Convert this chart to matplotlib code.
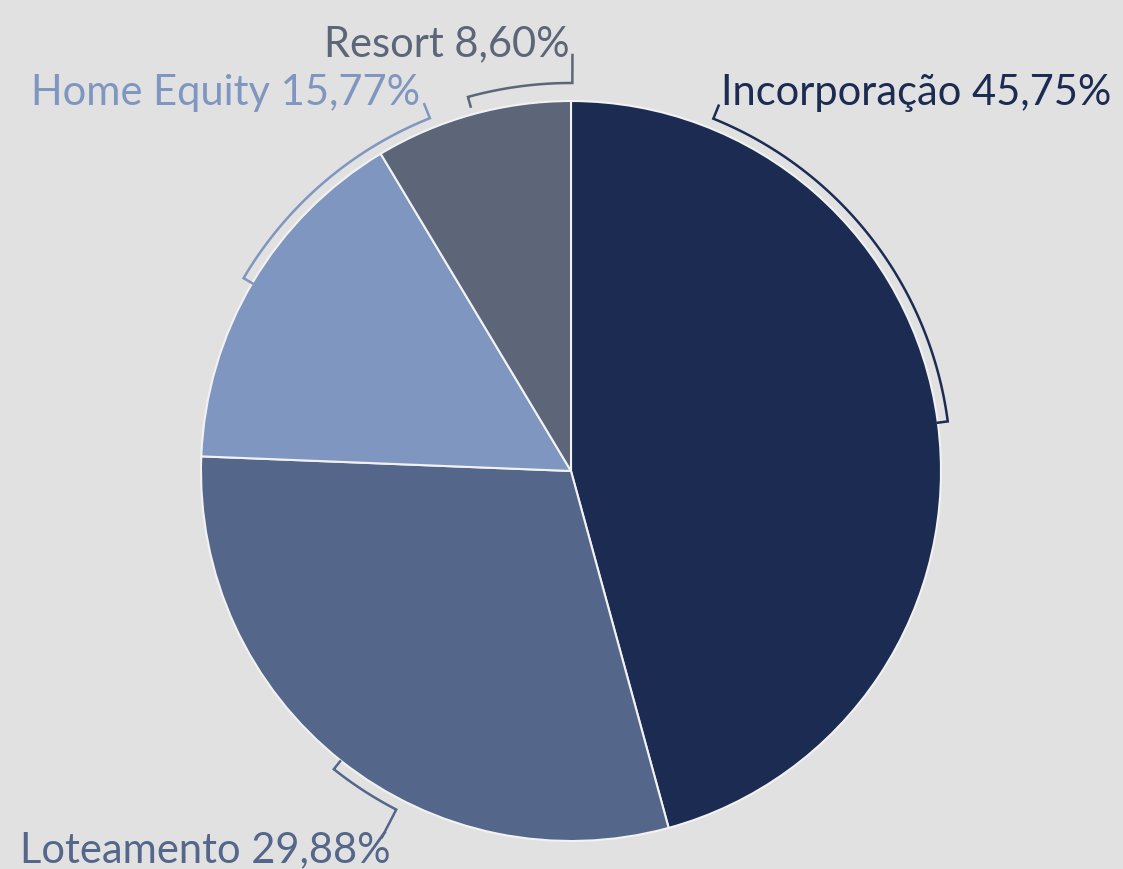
import numpy as np
import matplotlib
matplotlib.use('Agg')
import matplotlib.pyplot as plt

# data
labels = ['Incorporação', 'Loteamento', 'Home Equity', 'Resort']
shares = [45.75, 29.88, 15.77, 8.60]
colors = ['#1b2b52', '#54678a', '#7f96c0', '#5c6678']

W, H = 1123, 870
cx, cy, R = 571, H - 472, 370

# bracket callouts: (theta start, theta end at leader, radius, leader length), degrees clockwise from 12 o'clock
brackets = [
    (82.5, 22.0, 380, 14),
    (218.5, 207.3, 381, 31),
    (-59.5, -21.8, 380, 15),
    (-15.4, 0.2, 388, 28),
]
# label anchor (pixel x, pixel baseline y, alignment)
label_pos = [
    (721, 105, 'left'),
    (20, 862, 'left'),
    (420, 105, 'right'),
    (570, 56, 'right'),
]

plt.rcParams['font.family'] = ['Lato', 'DejaVu Sans']

fig = plt.figure(figsize=(W / 100, H / 100), dpi=100)
fig.patch.set_facecolor('#e1e1e1')
ax = fig.add_axes([0, 0, 1, 1])
ax.set_xlim(0, W)
ax.set_ylim(0, H)
ax.axis('off')

ax.pie(shares, colors=colors, startangle=90, counterclock=False,
       center=(cx, cy), radius=R, frame=True,
       wedgeprops=dict(edgecolor='#f2f2f2', linewidth=1.5))
ax.set_xlim(0, W)
ax.set_ylim(0, H)
ax.axis('off')


def pt(theta, r):
    t = np.radians(theta)
    return cx + r * np.sin(t), cy + r * np.cos(t)


for (t0, t1, r, lead), c in zip(brackets, colors):
    th = np.linspace(t0, t1, 80)
    xs, ys = pt(th, r)
    x_in, y_in = pt(t0, r - 10)
    x_out, y_out = pt(t1, r + lead)
    xs = np.concatenate([[x_in], xs, [x_out]])
    ys = np.concatenate([[y_in], ys, [y_out]])
    ax.plot(xs, ys, color=c, lw=1.8, solid_joinstyle='miter')

for name, val, c, (px, py, ha) in zip(labels, shares, colors, label_pos):
    txt = f'{name} {val:.2f}%'.replace('.', ',')
    ax.text(px, H - py, txt, color=c, fontsize=30, ha=ha, va='baseline')

fig.savefig('out.png', dpi=100, facecolor=fig.get_facecolor())
